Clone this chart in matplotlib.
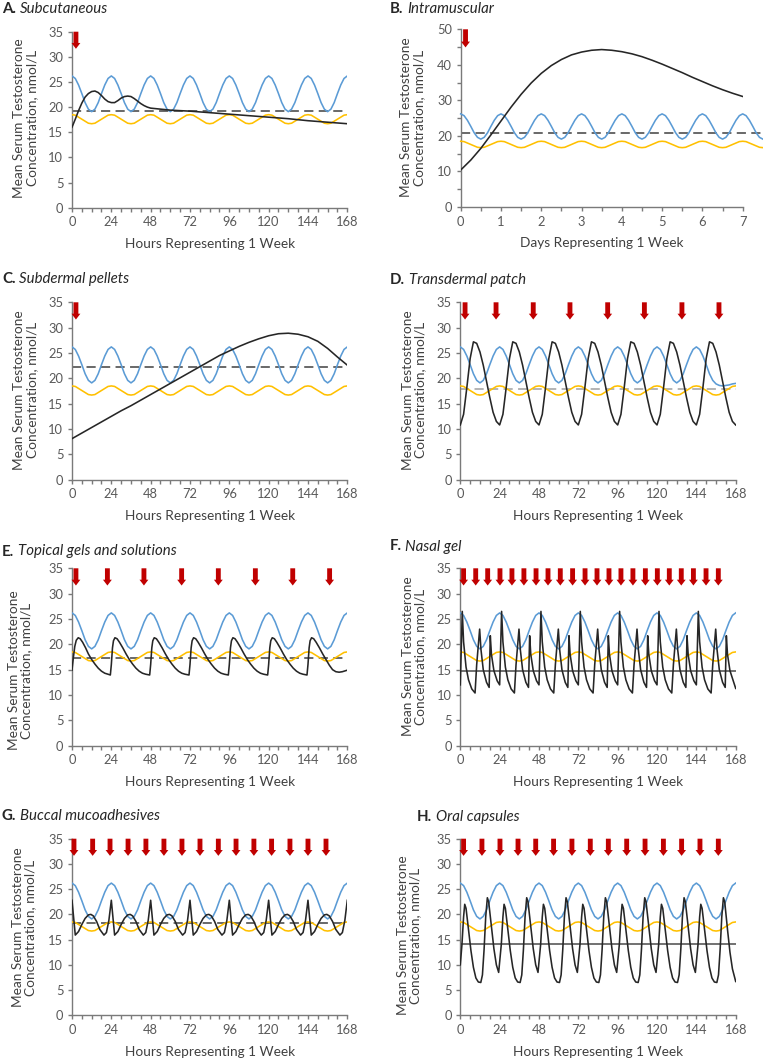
import numpy as np
import matplotlib
matplotlib.use("Agg")
import matplotlib.pyplot as plt
from matplotlib.ticker import MultipleLocator

plt.rcParams['font.family'] = ['Lato', 'DejaVu Sans']

# ---------------- data ----------------
HOURS_2H = np.arange(0, 169, 2)          # sampling grid (hours) for reference curves
DAYS_REF = np.arange(0, 91) / 12.0       # sampling grid (days) for panel B

BLUE_REF = [
    26.2, 25.7, 24.4, 22.7, 20.9, 19.6, 19.1, 19.6, 20.9, 22.7, 24.4, 25.7,
    26.2, 25.7, 24.4, 22.7, 20.9, 19.6, 19.1, 19.6, 20.9, 22.7, 24.4, 25.7,
    26.2, 25.7, 24.4, 22.7, 20.9, 19.6, 19.1, 19.6, 20.9, 22.7, 24.4, 25.7,
    26.2, 25.7, 24.4, 22.7, 20.9, 19.6, 19.1, 19.6, 20.9, 22.7, 24.4, 25.7,
    26.2, 25.7, 24.4, 22.7, 20.9, 19.6, 19.1, 19.6, 20.9, 22.7, 24.4, 25.7,
    26.2, 25.7, 24.4, 22.7, 20.9, 19.6, 19.1, 19.6, 20.9, 22.7, 24.4, 25.7,
    26.2, 25.7, 24.4, 22.7, 20.9, 19.6, 19.1, 19.6, 20.9, 22.7, 24.4, 25.7,
    26.2]
YELLOW_REF = [
    18.5, 18.4, 18.0, 17.6, 17.2, 16.8, 16.7, 16.8, 17.2, 17.6, 18.0, 18.4,
    18.5, 18.4, 18.0, 17.6, 17.2, 16.8, 16.7, 16.8, 17.2, 17.6, 18.0, 18.4,
    18.5, 18.4, 18.0, 17.6, 17.2, 16.8, 16.7, 16.8, 17.2, 17.6, 18.0, 18.4,
    18.5, 18.4, 18.0, 17.6, 17.2, 16.8, 16.7, 16.8, 17.2, 17.6, 18.0, 18.4,
    18.5, 18.4, 18.0, 17.6, 17.2, 16.8, 16.7, 16.8, 17.2, 17.6, 18.0, 18.4,
    18.5, 18.4, 18.0, 17.6, 17.2, 16.8, 16.7, 16.8, 17.2, 17.6, 18.0, 18.4,
    18.5, 18.4, 18.0, 17.6, 17.2, 16.8, 16.7, 16.8, 17.2, 17.6, 18.0, 18.4,
    18.5]
BLUE_D = [
    26.2, 25.7, 24.4, 22.7, 20.9, 19.6, 19.1, 19.6, 20.9, 22.7, 24.4, 25.7,
    26.2, 25.7, 24.4, 22.7, 20.9, 19.6, 19.1, 19.6, 20.9, 22.7, 24.4, 25.7,
    26.2, 25.7, 24.4, 22.7, 20.9, 19.6, 19.1, 19.6, 20.9, 22.7, 24.4, 25.7,
    26.2, 25.7, 24.4, 22.7, 20.9, 19.6, 19.1, 19.6, 20.9, 22.7, 24.4, 25.7,
    26.2, 25.7, 24.4, 22.7, 20.9, 19.6, 19.1, 19.6, 20.9, 22.7, 24.4, 25.7,
    26.2, 25.7, 24.4, 22.7, 20.9, 19.6, 19.1, 19.6, 20.9, 22.7, 24.4, 25.7,
    26.2, 25.7, 24.4, 22.7, 20.9, 19.6, 18.9, 18.6, 18.5, 18.6, 18.7, 18.9,
    19.0]
BLUE_B = [
    26.2, 25.7, 24.4, 22.7, 20.9, 19.6, 19.1, 19.6, 20.9, 22.7, 24.4, 25.7,
    26.2, 25.7, 24.4, 22.7, 20.9, 19.6, 19.1, 19.6, 20.9, 22.7, 24.4, 25.7,
    26.2, 25.7, 24.4, 22.7, 20.9, 19.6, 19.1, 19.6, 20.9, 22.7, 24.4, 25.7,
    26.2, 25.7, 24.4, 22.7, 20.9, 19.6, 19.1, 19.6, 20.9, 22.7, 24.4, 25.7,
    26.2, 25.7, 24.4, 22.7, 20.9, 19.6, 19.1, 19.6, 20.9, 22.7, 24.4, 25.7,
    26.2, 25.7, 24.4, 22.7, 20.9, 19.6, 19.1, 19.6, 20.9, 22.7, 24.4, 25.7,
    26.2, 25.7, 24.4, 22.7, 20.9, 19.6, 19.1, 19.6, 20.9, 22.7, 24.4, 25.7,
    26.2, 25.7, 24.4, 22.7, 20.9, 19.6, 19.1]
YELLOW_B = [
    18.5, 18.4, 18.0, 17.6, 17.2, 16.8, 16.7, 16.8, 17.2, 17.6, 18.0, 18.4,
    18.5, 18.4, 18.0, 17.6, 17.2, 16.8, 16.7, 16.8, 17.2, 17.6, 18.0, 18.4,
    18.5, 18.4, 18.0, 17.6, 17.2, 16.8, 16.7, 16.8, 17.2, 17.6, 18.0, 18.4,
    18.5, 18.4, 18.0, 17.6, 17.2, 16.8, 16.7, 16.8, 17.2, 17.6, 18.0, 18.4,
    18.5, 18.4, 18.0, 17.6, 17.2, 16.8, 16.7, 16.8, 17.2, 17.6, 18.0, 18.4,
    18.5, 18.4, 18.0, 17.6, 17.2, 16.8, 16.7, 16.8, 17.2, 17.6, 18.0, 18.4,
    18.5, 18.4, 18.0, 17.6, 17.2, 16.8, 16.7, 16.8, 17.2, 17.6, 18.0, 18.4,
    18.5, 18.4, 18.0, 17.6, 17.2, 16.8, 16.7]

# A. Subcutaneous
A_X = [0, 2, 4, 6, 8, 10, 12, 14, 16, 18, 20, 22, 24, 26, 28, 30, 32, 34, 36, 38,
       40, 42, 44, 46, 48, 54, 60, 72, 84, 96, 108, 120, 132, 144, 156, 168]
A_Y = [16.0, 17.6, 19.3, 20.8, 22.0, 22.7, 23.1, 23.2, 22.9, 22.3, 21.6, 21.1, 20.9,
       20.9, 21.3, 21.8, 22.1, 22.2, 22.1, 21.7, 21.2, 20.7, 20.3, 20.0, 19.8, 19.6,
       19.4, 19.2, 18.9, 18.6, 18.3, 18.0, 17.7, 17.3, 17.0, 16.7]
# B. Intramuscular (days)
B_X = [0, 0.25, 0.5, 0.75, 1, 1.25, 1.5, 1.75, 2, 2.25, 2.5, 2.75, 3, 3.25, 3.5, 3.75,
       4, 4.25, 4.5, 4.75, 5, 5.25, 5.5, 5.75, 6, 6.25, 6.5, 6.75, 7]
B_Y = [10.4, 13.2, 16.5, 20.3, 24.2, 28.1, 31.7, 34.9, 37.6, 39.8, 41.5, 42.8, 43.6,
       44.1, 44.3, 44.1, 43.7, 43.1, 42.3, 41.3, 40.2, 39.0, 37.8, 36.5, 35.3, 34.1,
       33.0, 32.0, 31.1]
# C. Subdermal pellets
C_X = list(range(0, 169, 6))
C_Y = [8.1, 9.2, 10.3, 11.4, 12.5, 13.6, 14.6, 15.7, 16.8, 17.9, 19.0, 20.1, 21.2, 22.3,
       23.4, 24.5, 25.4, 26.3, 27.1, 27.8, 28.4, 28.8, 28.9, 28.7, 28.2, 27.3, 25.9,
       24.2, 22.6]
# D. Transdermal patch (2 h grid)
D_Y = [
    10.8, 12.9, 18.2, 23.9, 27.2, 26.9, 25.2, 22.6, 19.4, 16.2, 13.3, 11.5,
    10.8, 12.9, 18.2, 23.9, 27.2, 26.9, 25.2, 22.6, 19.4, 16.2, 13.3, 11.5,
    10.8, 12.9, 18.2, 23.9, 27.2, 26.9, 25.2, 22.6, 19.4, 16.2, 13.3, 11.5,
    10.8, 12.9, 18.2, 23.9, 27.2, 26.9, 25.2, 22.6, 19.4, 16.2, 13.3, 11.5,
    10.8, 12.9, 18.2, 23.9, 27.2, 26.9, 25.2, 22.6, 19.4, 16.2, 13.3, 11.5,
    10.8, 12.9, 18.2, 23.9, 27.2, 26.9, 25.2, 22.6, 19.4, 16.2, 13.3, 11.5,
    10.8, 12.9, 18.2, 23.9, 27.2, 26.9, 25.2, 22.6, 19.4, 16.2, 13.3, 11.5,
    10.8]
# E. Topical gels and solutions
E_X = [0, 0.8, 1.7, 2.6, 3.8, 5, 6.5, 8.3, 10, 12, 14, 16, 18, 20, 22,
       23.4, 24, 24.7, 25.3, 26.2, 27.5, 29, 31, 33, 35, 37, 39, 41, 43, 45,
       47.4, 48, 48.7, 49.3, 50.2, 51.5, 53, 55, 57, 59, 61, 63, 65, 67, 69,
       71.4, 72, 72.7, 73.3, 74.2, 75.5, 77, 79, 81, 83, 85, 87, 89, 91, 93,
       95.4, 96, 96.7, 97.3, 98.2, 99.5, 101, 103, 105, 107, 109, 111, 113, 115, 117,
       119.4, 120, 120.7, 121.3, 122.2, 123.5, 125, 127, 129, 131, 133, 135, 137, 139, 141,
       143.4, 144, 144.7, 145.3, 146.2, 147.5, 149, 151, 153, 155, 157, 159, 161, 163, 165, 168]
E_Y = [14.9, 17.3, 19.6, 20.8, 21.3, 21.1, 20.4, 19.3, 18.1, 17.0, 16.1, 15.3, 14.7, 14.3, 14.1,
       13.95, 16.0, 19.3, 20.7, 21.3, 21.1, 20.4, 19.3, 18.1, 17.0, 16.1, 15.3, 14.7, 14.3, 14.1,
       13.95, 16.0, 19.3, 20.7, 21.3, 21.1, 20.4, 19.3, 18.1, 17.0, 16.1, 15.3, 14.7, 14.3, 14.1,
       13.95, 16.0, 19.3, 20.7, 21.3, 21.1, 20.4, 19.3, 18.1, 17.0, 16.1, 15.3, 14.7, 14.3, 14.1,
       13.95, 16.0, 19.3, 20.7, 21.3, 21.1, 20.4, 19.3, 18.1, 17.0, 16.1, 15.3, 14.7, 14.3, 14.1,
       13.95, 16.0, 19.3, 20.7, 21.3, 21.1, 20.4, 19.3, 18.1, 17.0, 16.1, 15.3, 14.7, 14.3, 14.1,
       13.95, 16.0, 19.3, 20.7, 21.3, 21.1, 20.4, 19.3, 18.1, 17.0, 15.9, 15.0, 14.6, 14.5, 14.6, 14.9]
# F. Nasal gel
F_X = [0, 1.2, 2, 3.5, 5, 7, 9, 10, 11.8, 12.6, 14, 16, 17.6, 18.3, 19, 20.5, 22.5,
       24, 25.2, 26, 27.5, 29, 31, 33, 34, 35.8, 36.6, 38, 40, 41.6, 42.3, 43, 44.5, 46.5,
       48, 49.2, 50, 51.5, 53, 55, 57, 58, 59.8, 60.6, 62, 64, 65.6, 66.3, 67, 68.5, 70.5,
       72, 73.2, 74, 75.5, 77, 79, 81, 82, 83.8, 84.6, 86, 88, 89.6, 90.3, 91, 92.5, 94.5,
       96, 97.2, 98, 99.5, 101, 103, 105, 106, 107.8, 108.6, 110, 112, 113.6, 114.3, 115, 116.5, 118.5,
       120, 121.2, 122, 123.5, 125, 127, 129, 130, 131.8, 132.6, 134, 136, 137.6, 138.3, 139, 140.5, 142.5,
       144, 145.2, 146, 147.5, 149, 151, 153, 154, 155.8, 156.6, 158, 160, 161.6, 162.3, 163, 164.5, 166.5,
       168]
F_Y = [12.0, 26.5, 20.5, 15.5, 13.0, 11.2, 10.4, 16.0, 23.0, 19.0, 15.0, 12.5, 11.5, 21.7, 18.0, 14.8, 12.8,
       12.0, 26.5, 20.5, 15.5, 13.0, 11.2, 10.4, 16.0, 23.0, 19.0, 15.0, 12.5, 11.5, 21.7, 18.0, 14.8, 12.8,
       12.0, 26.5, 20.5, 15.5, 13.0, 11.2, 10.4, 16.0, 23.0, 19.0, 15.0, 12.5, 11.5, 21.7, 18.0, 14.8, 12.8,
       12.0, 26.5, 20.5, 15.5, 13.0, 11.2, 10.4, 16.0, 23.0, 19.0, 15.0, 12.5, 11.5, 21.7, 18.0, 14.8, 12.8,
       12.0, 26.5, 20.5, 15.5, 13.0, 11.2, 10.4, 16.0, 23.0, 19.0, 15.0, 12.5, 11.5, 21.7, 18.0, 14.8, 12.8,
       12.0, 26.5, 20.5, 15.5, 13.0, 11.2, 10.4, 16.0, 23.0, 19.0, 15.0, 12.5, 11.5, 21.7, 18.0, 14.8, 12.8,
       12.0, 26.5, 20.5, 15.5, 13.0, 11.2, 10.4, 16.0, 23.0, 19.0, 15.0, 12.5, 11.5, 21.7, 18.0, 14.8, 12.8,
       11.3]
# G. Buccal mucoadhesives
G_X = [0, 2, 4, 6, 8, 10, 11.5, 13, 15, 17, 19.5, 21, 22.5,
       24, 26, 28, 30, 32, 34, 35.5, 37, 39, 41, 43.5, 45, 46.5,
       48, 50, 52, 54, 56, 58, 59.5, 61, 63, 65, 67.5, 69, 70.5,
       72, 74, 76, 78, 80, 82, 83.5, 85, 87, 89, 91.5, 93, 94.5,
       96, 98, 100, 102, 104, 106, 107.5, 109, 111, 113, 115.5, 117, 118.5,
       120, 122, 124, 126, 128, 130, 131.5, 133, 135, 137, 139.5, 141, 142.5,
       144, 146, 148, 150, 152, 154, 155.5, 157, 159, 161, 163.5, 165, 166.5,
       168]
G_Y = [22.8, 15.9, 16.6, 18.0, 19.2, 19.9, 20.0, 19.7, 18.6, 17.0, 15.9, 16.4, 18.8,
       22.8, 15.9, 16.6, 18.0, 19.2, 19.9, 20.0, 19.7, 18.6, 17.0, 15.9, 16.4, 18.8,
       22.8, 15.9, 16.6, 18.0, 19.2, 19.9, 20.0, 19.7, 18.6, 17.0, 15.9, 16.4, 18.8,
       22.8, 15.9, 16.6, 18.0, 19.2, 19.9, 20.0, 19.7, 18.6, 17.0, 15.9, 16.4, 18.8,
       22.8, 15.9, 16.6, 18.0, 19.2, 19.9, 20.0, 19.7, 18.6, 17.0, 15.9, 16.4, 18.8,
       22.8, 15.9, 16.6, 18.0, 19.2, 19.9, 20.0, 19.7, 18.6, 17.0, 15.9, 16.4, 18.8,
       22.8, 15.9, 16.6, 18.0, 19.2, 19.9, 20.0, 19.7, 18.6, 17.0, 15.9, 16.4, 18.8,
       22.8]
# H. Oral capsules
H_X = [0, 1, 2, 2.7, 3.5, 5, 6.5, 8, 9.5, 11, 12.5, 13.5, 14.5, 15.5, 16.5, 17.3, 19, 20.5, 22, 23.4,
       25, 26, 26.7, 27.5, 29, 30.5, 32, 33.5, 35, 36.5, 37.5, 38.5, 39.5, 40.5, 41.3, 43, 44.5, 46, 47.4,
       49, 50, 50.7, 51.5, 53, 54.5, 56, 57.5, 59, 60.5, 61.5, 62.5, 63.5, 64.5, 65.3, 67, 68.5, 70, 71.4,
       73, 74, 74.7, 75.5, 77, 78.5, 80, 81.5, 83, 84.5, 85.5, 86.5, 87.5, 88.5, 89.3, 91, 92.5, 94, 95.4,
       97, 98, 98.7, 99.5, 101, 102.5, 104, 105.5, 107, 108.5, 109.5, 110.5, 111.5, 112.5, 113.3, 115, 116.5, 118, 119.4,
       121, 122, 122.7, 123.5, 125, 126.5, 128, 129.5, 131, 132.5, 133.5, 134.5, 135.5, 136.5, 137.3, 139, 140.5, 142, 143.4,
       145, 146, 146.7, 147.5, 149, 150.5, 152, 153.5, 155, 156.5, 157.5, 158.5, 159.5, 160.5, 161.3, 163, 164.5, 166, 168]
H_Y = [10.0, 14.0, 19.5, 22.0, 21.2, 17.0, 12.8, 9.5, 7.4, 6.6, 6.5, 8.0, 13.0, 19.5, 23.3, 22.5, 17.5, 13.2, 10.0, 8.5,
       14.0, 19.5, 22.0, 21.2, 17.0, 12.8, 9.5, 7.4, 6.6, 6.5, 8.0, 13.0, 19.5, 23.3, 22.5, 17.5, 13.2, 10.0, 8.5,
       14.0, 19.5, 22.0, 21.2, 17.0, 12.8, 9.5, 7.4, 6.6, 6.5, 8.0, 13.0, 19.5, 23.3, 22.5, 17.5, 13.2, 10.0, 8.5,
       14.0, 19.5, 22.0, 21.2, 17.0, 12.8, 9.5, 7.4, 6.6, 6.5, 8.0, 13.0, 19.5, 23.3, 22.5, 17.5, 13.2, 10.0, 8.5,
       14.0, 19.5, 22.0, 21.2, 17.0, 12.8, 9.5, 7.4, 6.6, 6.5, 8.0, 13.0, 19.5, 23.3, 22.5, 17.5, 13.2, 10.0, 8.5,
       14.0, 19.5, 22.0, 21.2, 17.0, 12.8, 9.5, 7.4, 6.6, 6.5, 8.0, 13.0, 19.5, 23.3, 22.5, 17.5, 13.2, 10.0, 8.5,
       14.0, 19.5, 22.0, 21.2, 17.0, 12.8, 9.5, 7.4, 6.6, 6.5, 8.0, 13.0, 19.5, 23.3, 22.5, 17.0, 12.5, 9.2, 6.7]

# Mean levels (dashed / solid horizontal lines)
MEAN_LEVEL = {"A": 19.3, "B": 20.7, "C": 22.2, "D": 17.8, "E": 17.3, "F": 14.8, "G": 18.2, "H": 14.1}

# Dosing arrows (time of dose)
DOSES = {
    "A": [2.4],
    "B": [0.12],
    "C": [2.4],
    "D": [2.9, 21.8, 44.5, 66.9, 89.9, 112.3, 135.2, 157.8],
    "E": [2.4, 21.6, 43.9, 66.9, 89.3, 111.9, 134.7, 157.2],
    "F": [2.0, 9.4, 16.7, 24.2, 31.5, 38.8, 46.2, 53.5, 61.0, 68.5, 76.1, 83.4, 90.7, 98.0,
          105.3, 112.9, 120.2, 127.5, 134.8, 142.2, 149.9, 157.4],
    "G": [1.2, 12.6, 23.2, 34.2, 45.1, 56.1, 67.1, 78.1, 89.3, 100.1, 111.0, 121.8, 133.0, 144.0, 155.0],
    "H": [2.0, 13.2, 24.2, 35.2, 46.0, 56.9, 68.1, 79.3, 90.3, 101.5, 112.7, 123.9, 135.0, 146.2, 157.4],
}

TITLES = {"A": "Subcutaneous", "B": "Intramuscular", "C": "Subdermal pellets",
          "D": "Transdermal patch", "E": "Topical gels and solutions", "F": "Nasal gel",
          "G": "Buccal mucoadhesives", "H": "Oral capsules"}

# ---------------- layout (pixels) ----------------
W, H = 763, 1061
fig = plt.figure(figsize=(W / 100, H / 100), dpi=100)
renderer = fig.canvas.get_renderer()

BOX = {  # left, right, top, bottom
    "A": (72, 347.3, 31.7, 207.7), "B": (460.7, 742.7, 29.3, 207.0),
    "C": (72, 347.3, 302.3, 479.7), "D": (460.3, 735.7, 302.3, 479.7),
    "E": (72, 347.3, 568.3, 745.7), "F": (460.3, 735.7, 568.3, 745.7),
    "G": (72, 347.3, 838.7, 1015.3), "H": (460.3, 735.7, 838.7, 1015.3),
}
TITLE_POS = {"A": (2, 9), "B": (390, 9), "C": (2, 279.5), "D": (390, 280),
             "E": (2, 551.5), "F": (389.5, 546.5), "G": (2, 816), "H": (417, 817)}
YLAB_POS = {"A": (25.5, 118), "B": (412.5, 117.5), "C": (25.5, 390), "D": (414, 390),
            "E": (20, 670.5), "F": (414, 656.5), "G": (24, 927.5), "H": (409, 935.5)}

BLUE = "#5B9BD5"
YELLOW = "#FFC000"
BLACK = "#262626"
RED = "#C00000"
AXC = "#7A7A7A"
TXT = "#595959"
LAB = "#404040"

FS_TICK = 9.3
FS_LAB = 9.8
FS_TITLE = 10.8


def px2fig(x, y):
    return x / W, 1 - y / H


def make_axes(key):
    l, r, t, b = BOX[key]
    ax = fig.add_axes([l / W, 1 - b / H, (r - l) / W, (b - t) / H])
    for s in ("top", "right"):
        ax.spines[s].set_visible(False)
    for s in ("left", "bottom"):
        ax.spines[s].set_color(AXC)
        ax.spines[s].set_linewidth(1.0)
    ax.tick_params(which="both", direction="out", length=3.2, width=1.0, color=AXC,
                   labelsize=FS_TICK, labelcolor=TXT, pad=3)
    ax.patch.set_alpha(0)
    return ax


def draw_title(key):
    x, y = TITLE_POS[key]
    fx, fy = px2fig(x, y)
    t = fig.text(fx, fy, key + ".", fontsize=FS_TITLE, fontweight="bold", color=BLACK,
                 ha="left", va="center")
    bb = t.get_window_extent(renderer)
    fig.text((bb.x1 + 3.5) / W, fy, TITLES[key], fontsize=FS_TITLE, style="italic",
             color=BLACK, ha="left", va="center")


def draw_ylabel(key):
    x, y = YLAB_POS[key]
    fx, fy = px2fig(x, y)
    fig.text(fx, fy, "Mean Serum Testosterone\nConcentration, nmol/L", rotation=90,
             ha="center", va="center", multialignment="center", fontsize=FS_LAB,
             color=LAB, linespacing=1.08)


def draw_arrows(ax, key, top, tip):
    for d in DOSES[key]:
        ax.annotate("", xy=(d, tip), xytext=(d, top),
                    arrowprops=dict(arrowstyle="simple,head_length=4.2,head_width=6.4,tail_width=3.5",
                                    mutation_scale=1, color=RED, lw=0, shrinkA=0, shrinkB=0),
                    annotation_clip=False, zorder=6)


def hours_axis(ax):
    ax.set_xlim(0, 168)
    ax.set_ylim(0, 35)
    ax.set_xticks(range(0, 169, 24))
    ax.xaxis.set_minor_locator(MultipleLocator(6))
    ax.set_yticks(range(0, 36, 5))
    ax.set_xlabel("Hours Representing 1 Week", fontsize=FS_LAB, color=LAB, labelpad=7)


LW = 1.15

for key in "ABCDEFGH":
    ax = make_axes(key)
    draw_title(key)
    draw_ylabel(key)
    if key == "B":
        ax.set_xlim(0, 7)
        ax.set_ylim(0, 50)
        ax.set_xticks(range(0, 8))
        ax.xaxis.set_minor_locator(MultipleLocator(0.5))
        ax.set_yticks(range(0, 51, 10))
        ax.yaxis.set_minor_locator(MultipleLocator(5))
        ax.set_xlabel("Days Representing 1 Week", fontsize=FS_LAB, color=LAB, labelpad=7)
        ax.plot(DAYS_REF, BLUE_B, color=BLUE, lw=LW, clip_on=False, zorder=3)
        ax.plot(DAYS_REF, YELLOW_B, color=YELLOW, lw=LW, clip_on=False, zorder=3)
        ax.plot([0, 7.5], [MEAN_LEVEL["B"]] * 2, color="#404040", lw=1.1,
                ls=(0, (6, 3.5)), clip_on=False, zorder=2)
        ax.plot(B_X, B_Y, color=BLACK, lw=LW, zorder=4)
        draw_arrows(ax, key, 50, 44.9)
        continue

    hours_axis(ax)
    blue = BLUE_D if key == "D" else BLUE_REF
    ax.plot(HOURS_2H, blue, color=BLUE, lw=LW, zorder=3)
    ax.plot(HOURS_2H, YELLOW_REF, color=YELLOW, lw=LW, zorder=3)

    if key in ("F", "H"):
        ax.plot([0, 168], [MEAN_LEVEL[key]] * 2, color="#595959", lw=1.2, zorder=2)
    elif key == "D":
        ax.plot([0, 168], [MEAN_LEVEL[key]] * 2, color="#A0A0A0", lw=1.1,
                ls=(0, (6, 3.5)), zorder=2)
    else:
        ax.plot([0, 168], [MEAN_LEVEL[key]] * 2, color="#404040", lw=1.1,
                ls=(0, (6, 3.5)), zorder=2)

    xs, ys = {"A": (A_X, A_Y), "C": (C_X, C_Y), "D": (HOURS_2H, D_Y), "E": (E_X, E_Y),
              "F": (F_X, F_Y), "G": (G_X, G_Y), "H": (H_X, H_Y)}[key]
    ax.plot(xs, ys, color=BLACK, lw=LW, zorder=4)
    draw_arrows(ax, key, 35, 31.6)

fig.savefig("out.png", dpi=100)
